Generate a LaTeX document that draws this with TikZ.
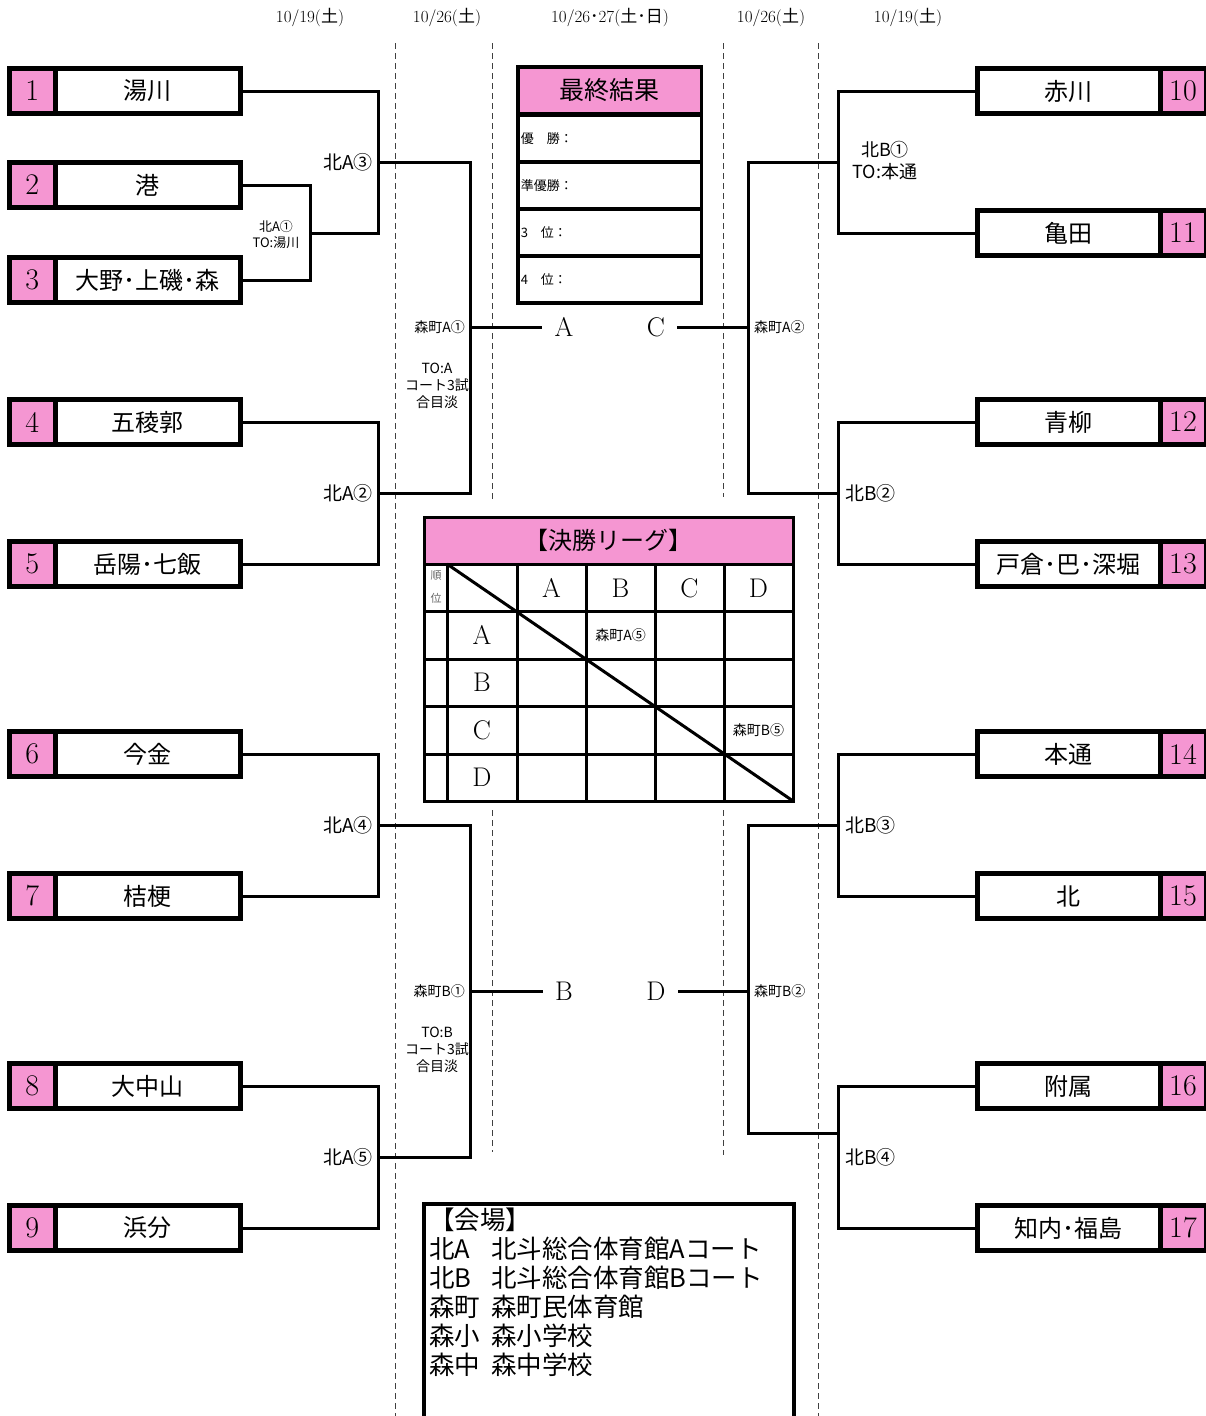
\documentclass[tikz,border=0pt]{standalone}
\usepackage{fontspec}
\newfontfamily\jp{Noto Sans CJK JP}
\definecolor{figP}{RGB}{245,150,210}
\tikzset{
  num/.style={draw,line width=5pt,fill=figP,outer sep=0pt,inner sep=0pt,minimum width=45.5pt,minimum height=45pt,font=\fontsize{30}{32}\selectfont},
  tname/.style={draw,line width=5pt,outer sep=0pt,inner sep=0pt,minimum width=185.5pt,minimum height=45pt,font=\jp\fontsize{24}{28}\selectfont},
  rname/.style={tname,minimum width=182.5pt},
  bk/.style={line width=3pt},
  sep/.style={dash pattern=on 6pt off 4pt,line width=1pt,black!75},
  date/.style={font=\fontsize{17}{19}\selectfont},
  game/.style={font=\jp\fontsize{19}{22}\selectfont,inner sep=1pt},
  note/.style={font=\jp\fontsize{14}{17}\selectfont,align=center,inner sep=1pt},
  team/.style={font=\fontsize{27}{30}\selectfont,inner xsep=12pt},
  fhead/.style={draw,line width=3.5pt,fill=figP,outer sep=0pt,minimum width=183.5pt,minimum height=47pt,font=\jp\fontsize{25}{28}\selectfont},
  frow/.style={draw,line width=3.5pt,outer sep=0pt,minimum width=183.5pt,minimum height=47pt,text width=178pt,align=left,inner sep=2pt,font=\jp\fontsize{13}{15}\selectfont},
  tb/.style={line width=3pt},
  cell/.style={font=\fontsize{27}{30}\selectfont,inner sep=0pt}
}
\begin{document}
\begin{tikzpicture}[x=1pt,y=-1pt]
\useasboundingbox (0,0) rectangle (1206,1416);
% dashed day separators
\draw[sep] (395,43)--(395,1416); \draw[sep] (818,43)--(818,1416);
\draw[sep] (492,43)--(492,500); \draw[sep] (492,810)--(492,1152);
\draw[sep] (723,43)--(723,497); \draw[sep] (723,810)--(723,1155);
% dates
\node[date] (d1) at (310,18) {10/19({\jp 土})};
\node[date] (d2) at (447,18) {10/26({\jp 土})};
\node[date] (d3) at (610,18) {10/26{\jp ･}27({\jp 土･日})};
\node[date] (d4) at (771,18) {10/26({\jp 土})};
\node[date] (d5) at (908,18) {10/19({\jp 土})};
% left teams
\node[tname] (t1) at (147.75,91) {湯川}; \node[num] (n1) at (32.25,91) {1};
\node[tname] (t2) at (147.75,185) {港}; \node[num] (n2) at (32.25,185) {2};
\node[tname] (t3) at (147.75,280) {大野･上磯･森}; \node[num] (n3) at (32.25,280) {3};
\node[tname] (t4) at (147.75,422) {五稜郭}; \node[num] (n4) at (32.25,422) {4};
\node[tname] (t5) at (147.75,564) {岳陽･七飯}; \node[num] (n5) at (32.25,564) {5};
\node[tname] (t6) at (147.75,754) {今金}; \node[num] (n6) at (32.25,754) {6};
\node[tname] (t7) at (147.75,896) {桔梗}; \node[num] (n7) at (32.25,896) {7};
\node[tname] (t8) at (147.75,1086) {大中山}; \node[num] (n8) at (32.25,1086) {8};
\node[tname] (t9) at (147.75,1228) {浜分}; \node[num] (n9) at (32.25,1228) {9};
% right teams
\node[rname] (t10) at (1068.75,91) {赤川}; \node[num,minimum width=46pt] (n10) at (1183,91) {10};
\node[rname] (t11) at (1068.75,233) {亀田}; \node[num,minimum width=46pt] (n11) at (1183,233) {11};
\node[rname] (t12) at (1068.75,422) {青柳}; \node[num,minimum width=46pt] (n12) at (1183,422) {12};
\node[rname] (t13) at (1068.75,564) {戸倉･巴･深堀}; \node[num,minimum width=46pt] (n13) at (1183,564) {13};
\node[rname] (t14) at (1068.75,754) {本通}; \node[num,minimum width=46pt] (n14) at (1183,754) {14};
\node[rname] (t15) at (1068.75,896) {北}; \node[num,minimum width=46pt] (n15) at (1183,896) {15};
\node[rname] (t16) at (1068.75,1086) {附属}; \node[num,minimum width=46pt] (n16) at (1183,1086) {16};
\node[rname] (t17) at (1068.75,1228) {知内･福島}; \node[num,minimum width=46pt] (n17) at (1183,1228) {17};
% bracket corners
\coordinate (kA1) at (310,233); \coordinate (kA3) at (378,162); \coordinate (kA2) at (378,493);
\coordinate (kA4) at (378,825); \coordinate (kA5) at (378,1157);
\coordinate (mA1) at (470,327); \coordinate (mB1) at (470,991);
\coordinate (kB1) at (838,162); \coordinate (kB2) at (838,493);
\coordinate (kB3) at (838,825); \coordinate (kB4) at (838,1133);
\coordinate (mA2) at (748,327); \coordinate (mB2) at (748,991);
% block letters
\node[team] (lA) at (564,327) {A}; \node[team] (lC) at (656,327) {C};
\node[team] (lB) at (564,991) {B}; \node[team] (lD) at (656,991) {D};
% left brackets
\draw[bk] (t2.east) -| (kA1) |- (t3.east);
\draw[bk] (t1.east) -| (kA3) |- (kA1);
\draw[bk] (t4.east) -| (kA2) |- (t5.east);
\draw[bk] (kA3) -| (mA1) |- (kA2); \draw[bk] (mA1) -- (lA.west);
\draw[bk] (t6.east) -| (kA4) |- (t7.east);
\draw[bk] (t8.east) -| (kA5) |- (t9.east);
\draw[bk] (kA4) -| (mB1) |- (kA5); \draw[bk] (mB1) -- (lB.west);
% right brackets
\draw[bk] (t10.west) -| (kB1) |- (t11.west);
\draw[bk] (t12.west) -| (kB2) |- (t13.west);
\draw[bk] (kB1) -| (mA2) |- (kB2); \draw[bk] (mA2) -- (lC.east);
\draw[bk] (t14.west) -| (kB3) |- (t15.west);
\draw[bk] (t16.west) -| (kB4) |- (t17.west);
\draw[bk] (kB3) -| (mB2) |- (kB4); \draw[bk] (mB2) -- (lD.east);
% game labels
\node[note,font=\jp\fontsize{13}{16}\selectfont] (qA1) at (276,235) {北A①\\TO:湯川};
\node[game,anchor=east] (qA3) at (374,162) {北A③};
\node[game,anchor=east] (qA2) at (374,493) {北A②};
\node[game,anchor=east] (qA4) at (374,825) {北A④};
\node[game,anchor=east] (qA5) at (374,1157) {北A⑤};
\node[note,font=\jp\fontsize{18}{22}\selectfont] (qB1) at (885,161) {北B①\\TO:本通};
\node[game,anchor=west] (qB2) at (844,493) {北B②};
\node[game,anchor=west] (qB3) at (844,825) {北B③};
\node[game,anchor=west] (qB4) at (844,1157) {北B④};
\node[note,anchor=east] (pA1) at (466,327) {森町A①};
\node[note,anchor=west] (pA2) at (753,327) {森町A②};
\node[note,anchor=east] (pB1) at (466,991) {森町B①};
\node[note,anchor=west] (pB2) at (753,991) {森町B②};
\node[note] (oA) at (437,386) {TO:A\\コート3試\\合目淡};
\node[note] (oB) at (437,1050) {TO:B\\コート3試\\合目淡};
% final result
\node[fhead] (fr) at (609.75,90.5) {最終結果};
\node[frow] (fr1) at (609.75,138.5) {優　勝：};
\node[frow] (fr2) at (609.75,185.5) {準優勝：};
\node[frow] (fr3) at (609.75,232.5) {3　位：};
\node[frow] (fr4) at (609.75,279.5) {4　位：};
% final league
\draw[tb,fill=figP] (424,517) rectangle (793,564);
\node[font=\jp\fontsize{24}{28}\selectfont] (lg) at (608.5,540.5) {【決勝リーグ】};
\draw[tb] (424,564) rectangle (793,801);
\draw[tb] (424,611)--(793,611); \draw[tb] (424,659)--(793,659); \draw[tb] (424,706)--(793,706); \draw[tb] (424,754)--(793,754);
\draw[tb] (447,564)--(447,801); \draw[tb] (517,564)--(517,801); \draw[tb] (586,564)--(586,801); \draw[tb] (655,564)--(655,801); \draw[tb] (724,564)--(724,801);
\draw[tb] (447,564)--(793,801);
\node[font=\jp\fontsize{11}{12}\selectfont,text=black!60,inner sep=0pt] (r1) at (436,576) {順};
\node[font=\jp\fontsize{11}{12}\selectfont,text=black!60,inner sep=0pt] (r2) at (436,598) {位};
\node[cell] (cA) at (551.5,588) {A}; \node[cell] (cB) at (620.5,588) {B};
\node[cell] (cC) at (689.5,588) {C}; \node[cell] (cD) at (758.5,588) {D};
\node[cell] (rA) at (482,635) {A}; \node[cell] (rB) at (482,682.5) {B};
\node[cell] (rC) at (482,730) {C}; \node[cell] (rD) at (482,777.5) {D};
\node[note] (gAB) at (620.5,635) {森町A⑤};
\node[note] (gCD) at (758.5,730) {森町B⑤};
% venues
\draw[line width=4pt] (424,1420) |- (794,1204) -- (794,1420);
\node[anchor=north west,inner sep=0pt,align=left,font=\jp\fontsize{25.5}{29}\selectfont] (vt) at (429,1207.5)
 {【会場】\\\makebox[62pt][l]{北A}北斗総合体育館Aコート\\\makebox[62pt][l]{北B}北斗総合体育館Bコート\\\makebox[62pt][l]{森町}森町民体育館\\\makebox[62pt][l]{森小}森小学校\\\makebox[62pt][l]{森中}森中学校};
\end{tikzpicture}
\end{document}
